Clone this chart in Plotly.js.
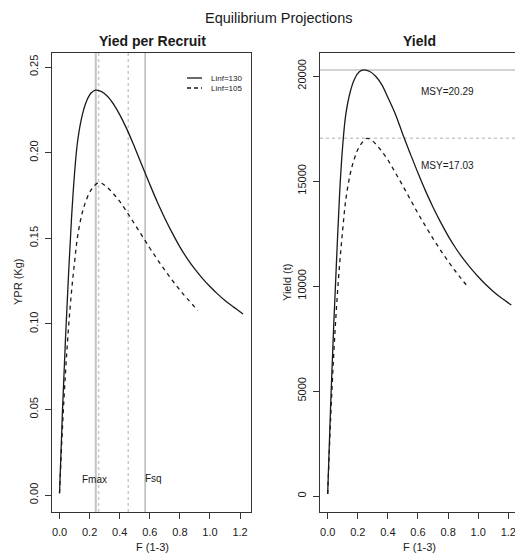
<!DOCTYPE html>
<html>
<head>
<meta charset="utf-8">
<script src="https://cdn.plot.ly/plotly-3.0.1.min.js"></script>
<style>html,body{margin:0;padding:0;overflow:hidden;background:#fff;}#chart{width:540px;height:556px;}</style>
</head>
<body>
<div id="chart"></div>
<script>
// ---- data ----
const fA = [0, 0.02, 0.04, 0.06, 0.08, 0.10, 0.12, 0.15, 0.18, 0.21, 0.24, 0.28, 0.32, 0.36, 0.40, 0.45, 0.50, 0.55, 0.60, 0.65, 0.70, 0.75, 0.80, 0.85, 0.90, 0.95, 1.00, 1.05, 1.10, 1.15, 1.22];
const yprA = [0.001, 0.050, 0.092, 0.129, 0.162, 0.188, 0.2065, 0.2215, 0.2302, 0.2348, 0.2365, 0.2356, 0.2328, 0.2282, 0.2222, 0.2133, 0.2030, 0.1922, 0.1815, 0.1712, 0.1617, 0.1530, 0.1450, 0.1380, 0.1320, 0.1266, 0.1218, 0.1175, 0.1136, 0.1103, 0.1058];
const yieldA = [100, 4400, 8100, 11400, 14500, 16700, 18150, 19250, 19880, 20200, 20290, 20214, 19974, 19580, 18980, 18180, 17200, 16280, 15380, 14530, 13750, 13040, 12390, 11810, 11300, 10850, 10440, 10070, 9740, 9450, 9095];

const fB = [0, 0.02, 0.04, 0.06, 0.08, 0.10, 0.12, 0.15, 0.18, 0.21, 0.26, 0.30, 0.35, 0.40, 0.45, 0.50, 0.55, 0.60, 0.65, 0.70, 0.75, 0.80, 0.85, 0.92];
const yprB = [0.001, 0.040, 0.072, 0.098, 0.119, 0.136, 0.151, 0.1645, 0.1728, 0.1782, 0.1825, 0.1810, 0.1768, 0.1715, 0.1650, 0.1582, 0.1512, 0.1443, 0.1377, 0.1314, 0.1254, 0.1198, 0.1146, 0.1078];
const yieldB = [100, 3730, 6720, 9140, 11100, 12690, 14090, 15350, 16120, 16630, 17030, 16890, 16500, 16000, 15390, 14760, 14110, 13460, 12850, 12260, 11700, 11180, 10690, 10058];

const seriesNames = ["Linf=130", "Linf=105"];
const refSolidF = [0.241, 0.569];      // Fmax, Fsq (Linf=130)
const refDottedF = [0.26, 0.457];      // reference points (Linf=105)
const refLabels = ["Fmax", "Fsq"];
const msy = [20290, 17030];
const msyLabels = ["MSY=20.29", "MSY=17.03"];
const xTicks = [0, 0.2, 0.4, 0.6, 0.8, 1.0, 1.2];

// ---- layout helpers ----
const W = 540, H = 556;
const px = x => x / W, py = y => 1 - y / H;
const FONT = "Liberation Sans, Arial, Helvetica, sans-serif";
const ink = "#1a1a1a";

const lineSolid = {color: ink, width: 1.3, shape: "spline", smoothing: 1};
const lineDash = {color: ink, width: 1.3, dash: "4px,4px", shape: "spline", smoothing: 1};

const traces = [
  {x: fA, y: yprA, xaxis: "x", yaxis: "y", mode: "lines", line: lineSolid, name: seriesNames[0], hoverinfo: "skip"},
  {x: fB, y: yprB, xaxis: "x", yaxis: "y", mode: "lines", line: lineDash, name: seriesNames[1], hoverinfo: "skip"},
  {x: fA, y: yieldA, xaxis: "x2", yaxis: "y2", mode: "lines", line: lineSolid, name: seriesNames[0], hoverinfo: "skip"},
  {x: fB, y: yieldB, xaxis: "x2", yaxis: "y2", mode: "lines", line: lineDash, name: seriesNames[1], hoverinfo: "skip"}
];

const axisCommon = {
  showline: true, mirror: true, linecolor: "#333", linewidth: 1,
  showgrid: false, zeroline: false,
  ticks: "outside", ticklen: 6, tickcolor: "#333", tickwidth: 1,
  tickfont: {family: FONT, size: 11, color: ink}
};
const yDom = [py(512), py(53)];

const shapes = [];
// vertical reference lines on YPR panel
shapes.push({type: "line", xref: "x", yref: "y domain", x0: refSolidF[0], x1: refSolidF[0], y0: 0, y1: 1, line: {color: "#c4c4c4", width: 2}, layer: "below"});
shapes.push({type: "line", xref: "x", yref: "y domain", x0: refSolidF[1], x1: refSolidF[1], y0: 0, y1: 1, line: {color: "#a8a8a8", width: 1.2}, layer: "below"});
refDottedF.forEach(f => shapes.push({type: "line", xref: "x", yref: "y domain", x0: f, x1: f, y0: 0, y1: 1, line: {color: "#c8c8c8", width: 1.5, dash: "3px,3px"}, layer: "below"}));
// horizontal MSY lines on Yield panel
shapes.push({type: "line", xref: "x2 domain", yref: "y2", x0: 0, x1: 1, y0: msy[0], y1: msy[0], line: {color: "#c4c4c4", width: 1.5}, layer: "below"});
shapes.push({type: "line", xref: "x2 domain", yref: "y2", x0: 0, x1: 1, y0: msy[1], y1: msy[1], line: {color: "#c8c8c8", width: 1.5, dash: "3px,3px"}, layer: "below"});
// legend samples
shapes.push({type: "line", xref: "paper", yref: "paper", x0: px(187), x1: px(202), y0: py(78), y1: py(78), line: {color: ink, width: 1.3}});
shapes.push({type: "line", xref: "paper", yref: "paper", x0: px(187), x1: px(202), y0: py(88), y1: py(88), line: {color: ink, width: 1.3, dash: "4px,3px"}});

const ann = (text, x, y, size, opts) => Object.assign({
  text: text, x: px(x), y: py(y), xref: "paper", yref: "paper", showarrow: false,
  font: {family: FONT, size: size, color: ink}, xanchor: "center", yanchor: "middle"
}, opts || {});

const annotations = [
  ann("Equilibrium Projections", 278.5, 18, 14.5),
  ann("<b>Yied per Recruit</b>", 152, 41, 14),
  ann("<b>Yield</b>", 419.5, 41, 14),
  ann("F (1-3)", 152, 547, 11),
  ann("F (1-3)", 419.5, 547, 11),
  ann("YPR (Kg)", 18, 282, 11, {textangle: -90}),
  ann("Yield (t)", 287, 282, 11, {textangle: -90}),
  ann(seriesNames[0], 209, 78, 8, {xanchor: "left"}),
  ann(seriesNames[1], 209, 88, 8, {xanchor: "left"}),
  {text: refLabels[0], x: 0.233, y: 0.0093, xref: "x", yref: "y", showarrow: false, font: {family: FONT, size: 10, color: ink}, xanchor: "center", yanchor: "middle"},
  {text: refLabels[1], x: refSolidF[1], y: 0.0099, xref: "x", yref: "y", showarrow: false, font: {family: FONT, size: 10, color: ink}, xanchor: "left", yanchor: "middle", xshift: -2},
  {text: msyLabels[0], x: 0.796, y: 19250, xref: "x2", yref: "y2", showarrow: false, font: {family: FONT, size: 10, color: ink}, xanchor: "center", yanchor: "middle"},
  {text: msyLabels[1], x: 0.796, y: 15730, xref: "x2", yref: "y2", showarrow: false, font: {family: FONT, size: 10, color: ink}, xanchor: "center", yanchor: "middle"}
];

const layout = {
  width: W, height: H,
  margin: {l: 0, r: 0, t: 0, b: 0},
  paper_bgcolor: "#fff", plot_bgcolor: "#fff",
  showlegend: false,
  font: {family: FONT, color: ink},
  xaxis: Object.assign({}, axisCommon, {domain: [px(52), px(251)], range: [-0.05, 1.273], tickvals: xTicks, tickformat: ".1f", anchor: "y", ticklabelstandoff: 4}),
  yaxis: Object.assign({}, axisCommon, {domain: yDom, range: [-0.0099, 0.2582], dtick: 0.05, tick0: 0, tickformat: ".2f", tickangle: -90, anchor: "x", ticklabelstandoff: 3}),
  xaxis2: Object.assign({}, axisCommon, {domain: [px(320), px(519)], range: [-0.051, 1.271], tickvals: xTicks, tickformat: ".1f", anchor: "y2", ticklabelstandoff: 4}),
  yaxis2: Object.assign({}, axisCommon, {domain: yDom, range: [-762, 21095], dtick: 5000, tick0: 0, tickformat: "d", tickangle: -90, anchor: "x2", ticklabelstandoff: 3}),
  shapes: shapes,
  annotations: annotations
};

Plotly.newPlot("chart", traces, layout, {displayModeBar: false, staticPlot: true});
</script>
</body>
</html>
